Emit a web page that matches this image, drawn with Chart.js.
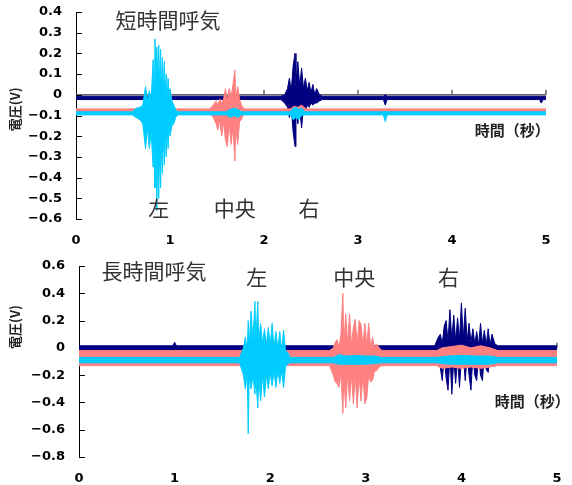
<!DOCTYPE html>
<html>
<head>
<meta charset="utf-8">
<script src="https://cdn.jsdelivr.net/npm/chart.js@4.4.1/dist/chart.umd.min.js"></script>
<style>
  body { margin: 0; background: #fff; }
  canvas { display: block; }
</style>
</head>
<body>
<canvas id="shortChart" width="572" height="250"></canvas>
<canvas id="longChart" width="572" height="235"></canvas>
<script>
// ---- short breath (top) : time (s), upper / lower envelope (V) ----
let shortCyanT  = [0, 0.60, 0.64, 0.68, 0.71, 0.74, 0.76, 0.78, 0.80, 0.82, 0.83, 0.84, 0.85, 0.86, 0.87, 0.88, 0.89, 0.90, 0.91, 0.92, 0.93, 0.94, 0.95, 0.96, 0.97, 0.98, 0.99, 1.00, 1.02, 1.04, 1.06, 1.08, 1.60, 1.64, 1.68, 1.72, 1.76, 2.28, 2.31, 2.34, 2.37, 2.40, 2.44, 3.27, 3.29, 3.31, 5];
let shortCyanHi = [-0.082, -0.082, -0.065, -0.06, -0.05, 0.04, -0.03, 0.02, -0.02, 0.17, 0.02, 0.27, 0.05, 0.23, 0.06, 0.24, 0.04, 0.22, 0.03, 0.18, 0.02, 0.16, 0.0, 0.1, -0.02, 0.08, -0.03, 0.03, -0.03, -0.05, -0.07, -0.082, -0.082, -0.07, -0.065, -0.07, -0.082, -0.082, -0.065, -0.06, -0.07, -0.065, -0.082, -0.082, -0.08, -0.082, -0.082];
let shortCyanLo = [-0.097, -0.097, -0.11, -0.12, -0.14, -0.26, -0.16, -0.26, -0.18, -0.35, -0.2, -0.45, -0.25, -0.56, -0.28, -0.5, -0.26, -0.45, -0.22, -0.38, -0.2, -0.34, -0.18, -0.3, -0.16, -0.26, -0.15, -0.2, -0.15, -0.14, -0.11, -0.097, -0.097, -0.11, -0.1, -0.11, -0.097, -0.097, -0.12, -0.11, -0.12, -0.1, -0.097, -0.097, -0.13, -0.097, -0.097];

let shortPinkT  = [0, 1.42, 1.46, 1.49, 1.51, 1.53, 1.55, 1.57, 1.59, 1.61, 1.63, 1.65, 1.67, 1.69, 1.70, 1.72, 1.74, 1.76, 1.79, 2.28, 2.32, 2.36, 2.40, 2.45, 5];
let shortPinkHi = [-0.068, -0.068, -0.05, -0.03, -0.05, -0.02, -0.04, -0.02, 0.03, -0.03, 0.03, -0.01, 0.05, 0.12, -0.02, 0.04, -0.02, -0.05, -0.068, -0.068, -0.055, -0.06, -0.05, -0.068, -0.068];
let shortPinkLo = [-0.082, -0.082, -0.11, -0.14, -0.17, -0.12, -0.2, -0.13, -0.22, -0.25, -0.14, -0.24, -0.16, -0.32, -0.15, -0.24, -0.13, -0.12, -0.082, -0.082, -0.09, -0.085, -0.09, -0.082, -0.082];

let shortNavyT  = [0, 2.18, 2.22, 2.25, 2.27, 2.29, 2.31, 2.33, 2.34, 2.36, 2.38, 2.40, 2.42, 2.44, 2.46, 2.48, 2.50, 2.52, 2.54, 2.56, 2.59, 2.62, 3.27, 3.29, 3.31, 4.93, 4.95, 4.97, 5];
let shortNavyHi = [-0.007, -0.007, 0.0, 0.03, 0.08, 0.02, 0.14, 0.2, 0.05, 0.16, 0.04, 0.13, 0.03, 0.08, 0.02, 0.06, 0.01, 0.05, 0.0, 0.03, 0.0, -0.007, -0.007, 0.0, -0.007, -0.007, -0.007, -0.007, -0.007];
let shortNavyLo = [-0.023, -0.023, -0.04, -0.06, -0.11, -0.06, -0.18, -0.25, -0.08, -0.14, -0.07, -0.16, -0.06, -0.08, -0.05, -0.06, -0.04, -0.05, -0.04, -0.04, -0.03, -0.023, -0.023, -0.05, -0.023, -0.023, -0.04, -0.023, -0.023];

// ---- long breath (bottom) ----
let longCyanT  = [0, 1.68, 1.72, 1.74, 1.76, 1.77, 1.78, 1.80, 1.82, 1.84, 1.85, 1.87, 1.88, 1.90, 1.92, 1.94, 1.96, 1.98, 2.00, 2.02, 2.04, 2.06, 2.08, 2.10, 2.12, 2.14, 2.16, 2.18, 2.21, 2.66, 2.72, 2.8, 2.9, 3.0, 3.1, 3.16, 3.74, 3.85, 4.0, 4.15, 4.3, 4.38, 5];
let longCyanHi = [-0.07, -0.07, 0.0, 0.08, -0.02, 0.2, 0.02, 0.27, 0.05, 0.34, 0.05, 0.34, 0.05, 0.18, 0.03, 0.14, 0.02, 0.15, 0.02, 0.18, 0.0, 0.12, -0.01, 0.12, -0.02, 0.13, -0.02, -0.03, -0.07, -0.07, -0.05, -0.06, -0.055, -0.06, -0.06, -0.07, -0.07, -0.06, -0.055, -0.06, -0.06, -0.07, -0.07];
let longCyanLo = [-0.11, -0.11, -0.2, -0.3, -0.18, -0.63, -0.22, -0.3, -0.2, -0.34, -0.22, -0.44, -0.22, -0.39, -0.2, -0.36, -0.2, -0.3, -0.18, -0.28, -0.17, -0.29, -0.16, -0.26, -0.17, -0.29, -0.14, -0.12, -0.11, -0.11, -0.12, -0.12, -0.12, -0.12, -0.115, -0.11, -0.11, -0.12, -0.12, -0.12, -0.12, -0.11, -0.11];

let longPinkT  = [0, 2.62, 2.66, 2.68, 2.70, 2.72, 2.74, 2.76, 2.77, 2.79, 2.81, 2.83, 2.85, 2.87, 2.89, 2.91, 2.93, 2.95, 2.97, 2.99, 3.01, 3.03, 3.05, 3.07, 3.09, 3.11, 3.14, 3.17, 3.74, 3.8, 3.9, 4.0, 4.1, 4.2, 4.3, 4.38, 5];
let longPinkHi = [-0.02, -0.02, 0.0, 0.04, 0.06, 0.0, 0.1, 0.4, 0.02, 0.25, 0.03, 0.25, 0.02, 0.15, 0.21, 0.02, 0.2, 0.17, 0.01, 0.18, 0.02, 0.18, 0.0, 0.08, 0.0, 0.03, 0.0, -0.02, -0.02, 0.0, 0.01, 0.02, 0.0, 0.015, 0.0, -0.02, -0.02];
let longPinkLo = [-0.13, -0.13, -0.2, -0.25, -0.26, -0.29, -0.18, -0.48, -0.22, -0.44, -0.2, -0.39, -0.2, -0.41, -0.2, -0.44, -0.2, -0.39, -0.2, -0.41, -0.37, -0.2, -0.25, -0.24, -0.17, -0.17, -0.14, -0.13, -0.13, -0.15, -0.14, -0.15, -0.14, -0.15, -0.14, -0.13, -0.13];

let longNavyT  = [0, 0.98, 1.0, 1.02, 2.93, 2.95, 2.97, 3.72, 3.76, 3.78, 3.80, 3.82, 3.84, 3.86, 3.88, 3.90, 3.92, 3.94, 3.96, 3.98, 4.00, 4.02, 4.04, 4.06, 4.08, 4.10, 4.12, 4.14, 4.16, 4.18, 4.20, 4.22, 4.24, 4.26, 4.28, 4.30, 4.32, 4.35, 4.38, 5];
let longNavyHi = [0.015, 0.015, 0.04, 0.015, 0.015, 0.03, 0.015, 0.015, 0.08, 0.1, 0.03, 0.16, 0.2, 0.05, 0.28, 0.06, 0.24, 0.05, 0.22, 0.06, 0.33, 0.07, 0.29, 0.05, 0.18, 0.04, 0.14, 0.03, 0.12, 0.02, 0.18, 0.03, 0.13, 0.02, 0.14, 0.02, 0.1, 0.03, 0.015, 0.015];
let longNavyLo = [-0.025, -0.025, -0.025, -0.025, -0.025, -0.025, -0.025, -0.025, -0.05, -0.15, -0.24, -0.06, -0.22, -0.31, -0.06, -0.34, -0.08, -0.26, -0.07, -0.29, -0.08, -0.06, -0.24, -0.06, -0.2, -0.31, -0.06, -0.2, -0.24, -0.05, -0.2, -0.24, -0.05, -0.16, -0.18, -0.05, -0.05, -0.03, -0.025, -0.025];

let cyan = '#00ccff';
let pink = '#ff8080';
let navy = '#000080';

let tickFont = {family: 'DejaVu Sans', size: 13, weight: 'bold'};
let jpFont = '21px "Noto Sans CJK JP"';
let axisNameFont = 'bold 15px "Noto Sans CJK JP"';

function fmt(v) {
  if (Math.abs(v) < 1e-9) return '0';
  return (v < 0 ? '−' : '') + Math.abs(v).toFixed(1);
}

function band(t, vals) {
  return t.map((x, i) => ({x: x, y: vals[i]}));
}

// two lines per channel, the lower one filled up to the upper one
function channel(color, t, hi, lo) {
  return [
    {data: band(t, hi), borderColor: color, backgroundColor: color, borderWidth: 1, pointRadius: 0, tension: 0, fill: false},
    {data: band(t, lo), borderColor: color, backgroundColor: color, borderWidth: 1, pointRadius: 0, tension: 0, fill: '-1'}
  ];
}

let deco = {
  id: 'deco',
  beforeDatasetsDraw(chart) {
    let ctx = chart.ctx;
    let x = chart.scales.x, y = chart.scales.y;
    let y0 = y.getPixelForValue(0);
    ctx.save();
    ctx.strokeStyle = '#666';
    ctx.lineWidth = 1.5;
    ctx.beginPath();
    ctx.moveTo(x.left, y0);
    ctx.lineTo(x.right, y0);
    x.ticks.forEach(t => {
      if (t.value === 0) return;
      let px = x.getPixelForValue(t.value);
      ctx.moveTo(px, y0);
      ctx.lineTo(px, y0 - 5);
    });
    ctx.stroke();
    ctx.strokeStyle = '#000';
    ctx.lineWidth = 1;
    ctx.beginPath();
    y.ticks.forEach(t => {
      let py = Math.round(y.getPixelForValue(t.value)) + 0.5;
      ctx.moveTo(x.left, py);
      ctx.lineTo(x.left + 6, py);
    });
    ctx.stroke();
    ctx.restore();
  },
  afterDraw(chart, args, opts) {
    let ctx = chart.ctx;
    let x = chart.scales.x, y = chart.scales.y;
    ctx.save();
    ctx.textAlign = 'center';
    ctx.textBaseline = 'middle';
    (opts.labels || []).forEach(l => {
      ctx.font = l.font;
      ctx.fillStyle = l.color;
      ctx.fillText(l.text, x.getPixelForValue(l.x), y.getPixelForValue(l.y));
    });
    let yt = opts.yTitle;
    ctx.translate(yt.px, y.getPixelForValue(yt.y));
    ctx.rotate(-Math.PI / 2);
    ctx.font = 'bold 13px "Noto Sans CJK JP"';
    ctx.fillStyle = '#222';
    ctx.fillText('電圧(V)', 0, 0);
    ctx.restore();
  }
};

function makeChart(id, sets, yMin, yMax, yStep, pad, yWidth, xHeight, labels, yTitle) {
  let ctx = document.getElementById(id).getContext('2d');
  return new Chart(ctx, {
    type: 'line',
    data: {datasets: sets},
    options: {
      responsive: false,
      animation: false,
      devicePixelRatio: 1,
      layout: {padding: pad},
      plugins: {
        legend: {display: false},
        tooltip: {enabled: false},
        deco: {labels: labels, yTitle: yTitle}
      },
      scales: {
        x: {
          type: 'linear', min: 0, max: 5,
          ticks: {stepSize: 1, font: tickFont, color: '#000', padding: 14, maxRotation: 0},
          grid: {color: 'rgba(0,0,0,0)', drawTicks: false},
          border: {display: false},
          afterFit: s => { s.height = xHeight; s.paddingLeft = 0; s.paddingRight = 0; }
        },
        y: {
          min: yMin, max: yMax,
          ticks: {stepSize: yStep, font: tickFont, color: '#000', padding: 14, callback: fmt},
          grid: {color: 'rgba(0,0,0,0)', drawTicks: false},
          border: {display: true, color: '#000', width: 1},
          afterFit: s => { s.width = yWidth; s.paddingTop = 0; s.paddingBottom = 0; }
        }
      }
    },
    plugins: [deco]
  });
}

makeChart('shortChart',
  [].concat(
    channel(cyan, shortCyanT, shortCyanHi, shortCyanLo),
    channel(pink, shortPinkT, shortPinkHi, shortPinkLo),
    channel(navy, shortNavyT, shortNavyHi, shortNavyLo)),
  -0.6, 0.4, 0.1,
  {top: 12, right: 26, bottom: 0, left: 0}, 76, 31,
  [
    {text: '短時間呼気', x: 0.98, y: 0.36, font: jpFont, color: '#333'},
    {text: '左', x: 0.88, y: -0.545, font: jpFont, color: '#333'},
    {text: '中央', x: 1.69, y: -0.545, font: jpFont, color: '#333'},
    {text: '右', x: 2.48, y: -0.545, font: jpFont, color: '#333'},
    {text: '時間（秒）', x: 4.64, y: -0.17, font: axisNameFont, color: '#222'}
  ],
  {px: 15, y: -0.07});

makeChart('longChart',
  [].concat(
    channel(cyan, longCyanT, longCyanHi, longCyanLo),
    channel(pink, longPinkT, longPinkHi, longPinkLo),
    channel(navy, longNavyT, longNavyHi, longNavyLo)),
  -0.8, 0.6, 0.2,
  {top: 16, right: 15, bottom: 0, left: 0}, 79, 28,
  [
    {text: '長時間呼気', x: 0.785, y: 0.56, font: jpFont, color: '#333'},
    {text: '左', x: 1.86, y: 0.516, font: jpFont, color: '#333'},
    {text: '中央', x: 2.88, y: 0.52, font: jpFont, color: '#333'},
    {text: '右', x: 3.865, y: 0.52, font: jpFont, color: '#333'},
    {text: '時間（秒）', x: 4.74, y: -0.39, font: axisNameFont, color: '#222'}
  ],
  {px: 15, y: 0.153});
</script>
</body>
</html>
